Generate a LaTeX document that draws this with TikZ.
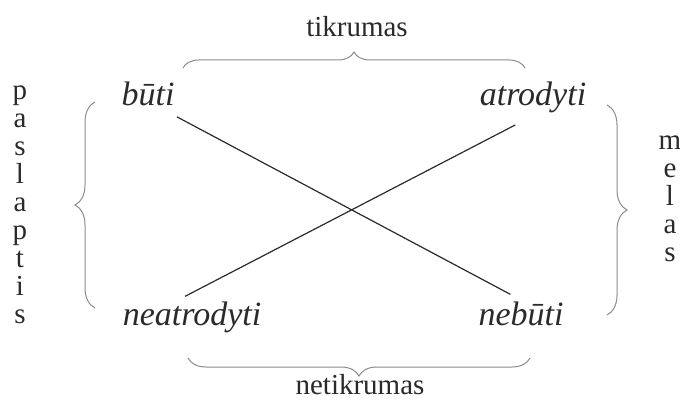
\documentclass[tikz,border=0pt]{standalone}
\usepackage{fontspec}
\setmainfont{Liberation Serif}
\usetikzlibrary{decorations.pathreplacing,positioning}
\definecolor{inkgrey}{HTML}{2A2A2A}
\definecolor{bracegrey}{HTML}{8C8C8C}

\begin{document}
\begin{tikzpicture}[
  x=0.5pt, y=-0.5pt,
  word/.style={font=\fontsize{17}{20}\selectfont\itshape, text=inkgrey, inner sep=1pt, anchor=base},
  lbl/.style={font=\fontsize{14.5}{14}\selectfont, text=inkgrey, align=center, inner sep=0pt},
  brc/.style={draw=bracegrey, line width=0.5pt, decorate, decoration={brace, amplitude=#1}},
  brc/.default=8pt
]
\useasboundingbox (0,0) rectangle (680,406);

% the four terms
\node[word] (buti) at (148,106) {būti};
\node[word] (atrodyti) at (533,106) {atrodyti};
\node[word] (neatrodyti) at (192,326) {neatrodyti};
\node[word] (nebuti) at (521,326) {nebūti};

% labels
\node[lbl] (tikrumas) at (357,27) {tikrumas};
\node[lbl] (netikrumas) at (360,385) {netikrumas};
\node[lbl] (paslaptis) at (20,205) {p\\a\\s\\l\\a\\p\\t\\i\\s};
\node[lbl] (melas) at (670,199) {m\\e\\l\\a\\s};

% braces
\draw[brc] (183,68) -- (525,68);
\draw[brc=9pt] (530,358) -- (188,358);
\draw[brc=10pt] (95,308) -- (95,102);
\draw[brc=10pt] (607,105) -- (607,315);

% diagonals
\draw[inkgrey, line width=0.6pt, shorten >=6pt] ([yshift=-4pt]buti.south east) -- (nebuti.north);
\draw[inkgrey, line width=0.6pt, shorten <=10pt, shorten >=4pt] (atrodyti.south) -- ([xshift=-7pt]neatrodyti.north);
\end{tikzpicture}
\end{document}
